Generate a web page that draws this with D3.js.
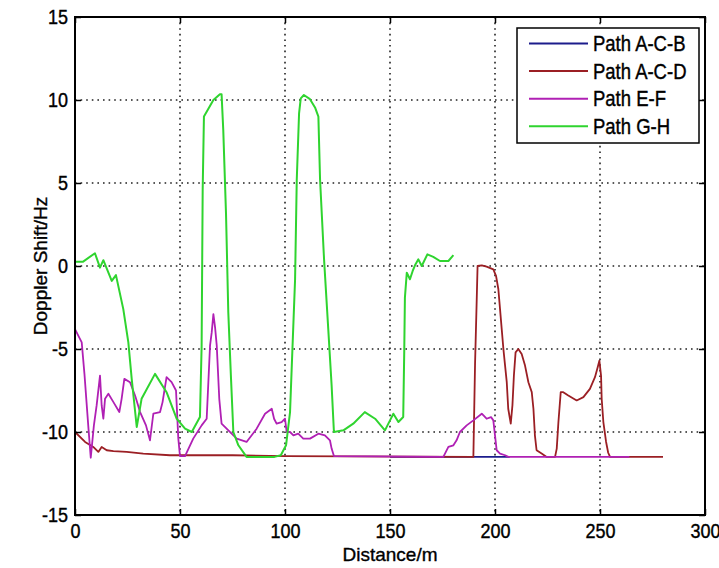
<!DOCTYPE html>
<html>
<head>
<meta charset="utf-8">
<script src="https://cdn.jsdelivr.net/npm/d3@7"></script>
<style>
body { margin: 0; background: #fff; }
text { font-family: "Liberation Sans", Arial, sans-serif; fill: #000; stroke: #000; stroke-width: 0.35px; }
</style>
</head>
<body>
<svg id="chart" width="719" height="568"></svg>
<script>
// tick values
var xTicks = [0, 50, 100, 150, 200, 250, 300];
var yTicks = [-15, -10, -5, 0, 5, 10, 15];

// series: [distance (m), doppler shift (Hz)]
var pathACB = [[150, -11.5], [207, -11.5]];

var pathACD = [[0, -10.0], [4.8, -10.6], [8.7, -10.9], [11.1, -11.2], [12.7, -10.9], [15.1, -11.1],
    [18.3, -11.15], [24.6, -11.2], [32.5, -11.3], [45.2, -11.4], [75, -11.4], [100, -11.45],
    [189.7, -11.5], [190.5, -5.9], [191.3, -2.0], [191.7, 0], [193.7, 0.04], [196, -0.04],
    [199.2, -0.2], [200.5, -0.6], [201.6, -1.4], [202.4, -2.6], [203.2, -3.8], [204, -5.0],
    [204.8, -6.0], [205.6, -7.0], [206.3, -8.6], [207.5, -9.5], [208.3, -8.4], [209, -6.6],
    [209.8, -5.2], [211.1, -5.0], [212.7, -5.3], [214.3, -6.0], [215.9, -7.0], [217.5, -7.6],
    [218.3, -8.6], [219, -10.2], [219.8, -11.1], [222.2, -11.3], [224.6, -11.5], [228.6, -11.5],
    [229.4, -11.0], [230.2, -9.4], [231.3, -7.6], [232.5, -7.6], [234.9, -7.8], [238.9, -8.1],
    [242.1, -7.9], [245.2, -7.4], [247.6, -6.7], [248.9, -6.1], [249.7, -5.7], [250.5, -6.6],
    [250.8, -8.0], [251.6, -9.4], [252.9, -10.6], [253.9, -11.25], [254.8, -11.5], [280, -11.5]];

var pathEF = [[0, -3.8], [3.2, -4.6], [4.5, -6.5], [6.3, -9.6], [7.5, -11.55], [9, -9.6],
    [10.3, -8.4], [11.9, -6.6], [12.7, -8.4], [13.5, -9.2], [14.3, -8.0], [15.9, -7.7],
    [18.3, -8.2], [21.1, -8.8], [22.2, -8.0], [23.5, -6.8], [26.2, -7.0], [28.6, -7.8],
    [31, -8.8], [33.8, -9.6], [35.7, -10.5], [37.3, -8.9], [40.5, -8.8], [41.7, -8.2],
    [43.6, -6.7], [46, -7.0], [48.1, -7.5], [49.2, -10.4], [50, -11.45], [52.4, -11.45],
    [56.3, -10.4], [60.3, -9.6], [62.7, -9.2], [64.3, -4.8], [65.1, -4.0], [65.9, -2.9],
    [66.7, -3.7], [67.5, -4.8], [68.7, -8.0], [69.8, -9.5], [74.6, -10.1], [77, -10.4],
    [81.7, -10.6], [86.5, -9.8], [90.5, -8.9], [93.7, -8.6], [94.8, -9.2], [96, -9.5],
    [98.4, -9.4], [100, -9.2], [100.8, -10.0], [102.4, -10.0], [104, -10.2], [106.3, -10.1],
    [108.7, -10.4], [111.9, -10.4], [115.9, -10.1], [119, -10.2], [121.4, -10.5], [122.2, -11.0],
    [123.3, -11.45], [175.4, -11.5], [177.8, -10.9], [180.2, -10.8], [181.7, -10.5], [183.3, -10.0],
    [186.5, -9.6], [189.7, -9.3], [193.7, -8.9], [196, -9.2], [198.1, -9.1], [199.2, -9.3],
    [200, -10.2], [200.8, -11.1], [202.4, -11.3], [204.8, -11.4], [206.3, -11.5], [264, -11.5]];

var pathGH = [[0, 0.25], [3.7, 0.25], [9.5, 0.77], [11.9, -0.1], [13.5, 0.35], [17.5, -0.9],
    [19.5, -0.55], [23, -2.6], [25.4, -4.6], [27, -6.8], [29.4, -9.7], [31.7, -8.0], [38.1, -6.5],
    [43.6, -7.6], [48.4, -9.2], [52.4, -9.8], [55.6, -10], [59.5, -9.1], [60.3, -4.8], [60.8, 4.6],
    [61.4, 9.0], [65.9, 10.0], [69, 10.35], [69.8, 10.35], [70.6, 8.2], [71.9, 3.2], [73, -2.8],
    [74.3, -6.8], [75.4, -10.0], [77.8, -10.8], [81.7, -11.5], [95, -11.5], [98, -11.4],
    [100.5, -10.8], [102.4, -8.8], [104.8, -0.8], [105.6, 5.2], [106.7, 9.2], [107.5, 10.1],
    [109, 10.3], [111.9, 10.05], [114.3, 9.55], [115.9, 9.0], [116.7, 5.2], [118.6, 0.4],
    [120.6, -3.8], [122.2, -7.2], [123.3, -10.0], [127.8, -9.9], [132.5, -9.5], [138, -8.8],
    [142.9, -9.2], [147.6, -9.9], [150, -9.3], [151.6, -8.9], [154, -9.4], [156.3, -9.1],
    [156.8, -5.0], [157.1, -1.9], [158, -0.4], [159.5, -0.8], [160.8, -0.3], [161.9, 0.04],
    [163.5, 0.4], [165.1, 0], [167.8, 0.7], [170.6, 0.55], [173.8, 0.3], [177.8, 0.3], [180.2, 0.65]];

var seriesNames = ["Path A-C-B", "Path A-C-D", "Path E-F", "Path G-H"];
var seriesData = [pathACB, pathACD, pathEF, pathGH];
var seriesColors = ["#1c1c8c", "#9b1f24", "#b020b4", "#2fd42f"];

var width = 719,
    height = 568,
    margin = {top: 17, right: 14, bottom: 53, left: 75};

var svg = d3.select("#chart");

var x = d3.scaleLinear()
    .domain([0, 300])
    .range([margin.left, width - margin.right]);
var y = d3.scaleLinear()
    .domain([-15, 15])
    .range([height - margin.bottom, margin.top]);

// stretch tick / legend text a bit vertically like the original render
function stretch(sel) {
    sel.style("transform-box", "fill-box")
        .style("transform-origin", "center")
        .style("transform", "scaleY(1.15)");
}

// dotted grid
var grid = svg.append("g")
    .attr("stroke", "#222")
    .attr("stroke-width", 1.6)
    .attr("stroke-dasharray", "1.6,4");
grid.selectAll(".gx")
    .data(xTicks.slice(1, -1))
    .enter().append("line")
    .attr("x1", x).attr("x2", x)
    .attr("y1", y(15)).attr("y2", y(-15));
grid.selectAll(".gy")
    .data(yTicks.slice(1, -1))
    .enter().append("line")
    .attr("x1", x(0)).attr("x2", x(300))
    .attr("y1", y).attr("y2", y);

// data lines
var line = d3.line()
    .x(function(d) { return x(d[0]); })
    .y(function(d) { return y(d[1]); });

svg.append("g").selectAll("path")
    .data(seriesData)
    .enter().append("path")
    .attr("d", line)
    .attr("fill", "none")
    .attr("stroke", function(d, i) { return seriesColors[i]; })
    .attr("stroke-width", function(d, i) { return i == 3 ? 2 : 1.8; })
    .attr("stroke-linejoin", "round");

// axes with inward ticks on all four sides
var fmt = function(d) { return String(d); };

svg.append("g")
    .attr("transform", "translate(0," + y(-15) + ")")
    .call(d3.axisBottom(x).tickValues(xTicks).tickFormat(fmt).tickSize(-6).tickPadding(9));
svg.append("g")
    .attr("transform", "translate(" + x(0) + ",0)")
    .call(d3.axisLeft(y).tickValues(yTicks).tickFormat(fmt).tickSize(-6).tickPadding(7));
svg.append("g")
    .attr("transform", "translate(0," + y(15) + ")")
    .call(d3.axisTop(x).tickValues(xTicks).tickFormat("").tickSize(-6));
svg.append("g")
    .attr("transform", "translate(" + x(300) + ",0)")
    .call(d3.axisRight(y).tickValues(yTicks).tickFormat("").tickSize(-6));

svg.selectAll(".domain").remove();
svg.selectAll(".tick line").attr("stroke", "#000").attr("stroke-width", 1.5);
svg.selectAll(".tick text")
    .attr("font-size", 18)
    .attr("font-family", null)
    .attr("fill", null)
    .call(stretch);

// frame
svg.append("rect")
    .attr("x", x(0)).attr("y", y(15))
    .attr("width", x(300) - x(0))
    .attr("height", y(-15) - y(15))
    .attr("fill", "none")
    .attr("stroke", "#000")
    .attr("stroke-width", 2);

// axis titles
svg.append("text")
    .attr("x", (x(0) + x(300)) / 2)
    .attr("y", 561)
    .attr("text-anchor", "middle")
    .attr("font-size", 19)
    .text("Distance/m");
svg.append("text")
    .attr("transform", "translate(47," + y(0) + ") rotate(-90)")
    .attr("text-anchor", "middle")
    .attr("font-size", 19)
    .text("Doppler Shift/Hz");

// legend
var legend = svg.append("g");
legend.append("rect")
    .attr("x", 517).attr("y", 28)
    .attr("width", 182).attr("height", 115)
    .attr("fill", "#fff")
    .attr("stroke", "#000")
    .attr("stroke-width", 1.5);

var rows = legend.selectAll(".row")
    .data(seriesNames)
    .enter().append("g")
    .attr("transform", function(d, i) { return "translate(0," + (43.5 + i * 27.6) + ")"; });
rows.append("line")
    .attr("x1", 529).attr("x2", 588)
    .attr("stroke", function(d, i) { return seriesColors[i]; })
    .attr("stroke-width", 2);
rows.append("text")
    .attr("x", 593)
    .attr("dy", "0.36em")
    .attr("font-size", 18.5)
    .text(function(d) { return d; })
    .call(stretch);
</script>
</body>
</html>
